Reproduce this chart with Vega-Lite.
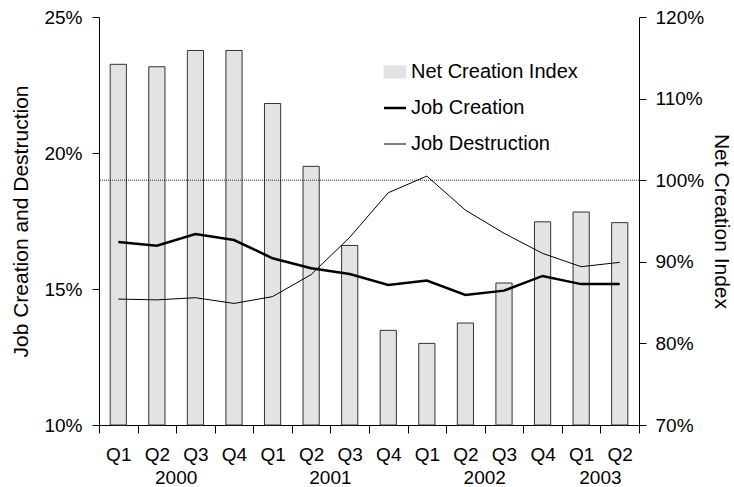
{
  "$schema": "https://vega.github.io/schema/vega-lite/v6.json",
  "width": 540,
  "height": 408,
  "autosize": "none",
  "padding": {"left": 99, "top": 17, "right": 95, "bottom": 62},
  "config": {
    "font": "Liberation Sans",
    "view": {"stroke": null},
    "axis": {
      "domainColor": "#000",
      "tickColor": "#000",
      "labelColor": "#000",
      "titleColor": "#000",
      "labelFontSize": 19,
      "titleFontSize": 21,
      "titleFontWeight": "normal",
      "grid": false
    },
    "legend": {
      "title": null,
      "orient": "none",
      "legendX": 286,
      "legendY": 45,
      "labelFontSize": 20,
      "labelColor": "#000",
      "labelLimit": 400,
      "labelOffset": 6,
      "rowPadding": 16,
      "symbolSize": 484
    }
  },
  "datasets": {
    "bars": [
      {"q": "2000 Q1", "index": 114.2},
      {"q": "2000 Q2", "index": 113.9},
      {"q": "2000 Q3", "index": 115.9},
      {"q": "2000 Q4", "index": 115.9},
      {"q": "2001 Q1", "index": 109.4},
      {"q": "2001 Q2", "index": 101.7},
      {"q": "2001 Q3", "index": 92.0},
      {"q": "2001 Q4", "index": 81.6},
      {"q": "2002 Q1", "index": 80.0},
      {"q": "2002 Q2", "index": 82.5},
      {"q": "2002 Q3", "index": 87.4},
      {"q": "2002 Q4", "index": 94.9},
      {"q": "2003 Q1", "index": 96.1},
      {"q": "2003 Q2", "index": 94.8}
    ],
    "lines": [
      {"q": "2000 Q1", "series": "Job Creation", "value": 16.73},
      {"q": "2000 Q2", "series": "Job Creation", "value": 16.59},
      {"q": "2000 Q3", "series": "Job Creation", "value": 17.02},
      {"q": "2000 Q4", "series": "Job Creation", "value": 16.8},
      {"q": "2001 Q1", "series": "Job Creation", "value": 16.13},
      {"q": "2001 Q2", "series": "Job Creation", "value": 15.76},
      {"q": "2001 Q3", "series": "Job Creation", "value": 15.55},
      {"q": "2001 Q4", "series": "Job Creation", "value": 15.15},
      {"q": "2002 Q1", "series": "Job Creation", "value": 15.31},
      {"q": "2002 Q2", "series": "Job Creation", "value": 14.78},
      {"q": "2002 Q3", "series": "Job Creation", "value": 14.94},
      {"q": "2002 Q4", "series": "Job Creation", "value": 15.48},
      {"q": "2003 Q1", "series": "Job Creation", "value": 15.18},
      {"q": "2003 Q2", "series": "Job Creation", "value": 15.18},
      {"q": "2000 Q1", "series": "Job Destruction", "value": 14.63},
      {"q": "2000 Q2", "series": "Job Destruction", "value": 14.6},
      {"q": "2000 Q3", "series": "Job Destruction", "value": 14.68},
      {"q": "2000 Q4", "series": "Job Destruction", "value": 14.47},
      {"q": "2001 Q1", "series": "Job Destruction", "value": 14.72},
      {"q": "2001 Q2", "series": "Job Destruction", "value": 15.53},
      {"q": "2001 Q3", "series": "Job Destruction", "value": 16.9},
      {"q": "2001 Q4", "series": "Job Destruction", "value": 18.54},
      {"q": "2002 Q1", "series": "Job Destruction", "value": 19.15},
      {"q": "2002 Q2", "series": "Job Destruction", "value": 17.9},
      {"q": "2002 Q3", "series": "Job Destruction", "value": 17.05},
      {"q": "2002 Q4", "series": "Job Destruction", "value": 16.31},
      {"q": "2003 Q1", "series": "Job Destruction", "value": 15.82},
      {"q": "2003 Q2", "series": "Job Destruction", "value": 15.98}
    ],
    "years": [
      {"q": "2000 Q2", "year": "2000"},
      {"q": "2001 Q2", "year": "2001"},
      {"q": "2002 Q2", "year": "2002"},
      {"q": "2003 Q1", "year": "2003"}
    ],
    "ref": [{"level": 100}]
  },
  "layer": [
    {
      "layer": [
        {
          "data": {"name": "bars"},
          "mark": {"type": "bar", "width": {"band": 0.42}, "stroke": "#333", "strokeWidth": 1},
          "encoding": {
            "x": {
              "field": "q",
              "type": "nominal",
              "scale": {
                "domain": ["2000 Q1","2000 Q2","2000 Q3","2000 Q4","2001 Q1","2001 Q2","2001 Q3","2001 Q4","2002 Q1","2002 Q2","2002 Q3","2002 Q4","2003 Q1","2003 Q2"],
                "paddingInner": 0,
                "paddingOuter": 0
              },
              "axis": {
                "title": null,
                "labelAngle": 0,
                "tickBand": "extent",
                "tickSize": 8,
                "labelPadding": 12,
                "labelExpr": "substring(datum.label, 5)"
              }
            },
            "y": {
              "field": "index",
              "type": "quantitative",
              "scale": {"domain": [70, 120], "zero": false, "nice": false},
              "axis": {
                "orient": "right",
                "title": "Net Creation Index",
                "values": [70, 80, 90, 100, 110, 120],
                "labelExpr": "datum.value + '%'",
                "tickSize": 7,
                "labelPadding": 9,
                "titlePadding": 7
              }
            },
            "y2": {"datum": 70},
            "color": {
              "datum": "Net Creation Index",
              "scale": {
                "domain": ["Net Creation Index", "Job Creation", "Job Destruction"],
                "range": ["#e3e3e3", "#000000", "#000000"]
              },
              "legend": {
                "encode": {
                  "symbols": {
                    "update": {
                      "shape": {"signal": "datum.value === 'Net Creation Index' ? 'M-1,-0.55L1,-0.55L1,0.55L-1,0.55Z' : 'stroke'"},
                      "fill": {"signal": "datum.value === 'Net Creation Index' ? '#e3e3e3' : 'transparent'"},
                      "stroke": {"signal": "datum.value === 'Net Creation Index' ? '#444444' : '#000000'"},
                      "strokeWidth": {"signal": "datum.value === 'Job Creation' ? 2.5 : 1"},
                      "opacity": {"value": 1},
                      "strokeOpacity": {"value": 1}
                    }
                  }
                }
              }
            }
          }
        },
        {
          "data": {"name": "ref"},
          "mark": {"type": "rule", "strokeDash": [1, 1], "strokeWidth": 0.8, "color": "#000"},
          "encoding": {
            "y": {"field": "level", "type": "quantitative"}
          }
        }
      ]
    },
    {
      "layer": [
        {
          "data": {"name": "lines"},
          "mark": {"type": "line"},
          "encoding": {
            "x": {"field": "q", "type": "nominal"},
            "y": {
              "field": "value",
              "type": "quantitative",
              "scale": {"domain": [10, 25], "zero": false, "nice": false},
              "axis": {
                "orient": "left",
                "title": "Job Creation and Destruction",
                "values": [10, 15, 20, 25],
                "labelExpr": "datum.value + '%'",
                "tickSize": 7,
                "labelPadding": 10,
                "titlePadding": 12
              }
            },
            "color": {
              "field": "series",
              "type": "nominal",
              "legend": {
                "encode": {
                  "symbols": {
                    "update": {
                      "shape": {"signal": "datum.value === 'Net Creation Index' ? 'M-1,-0.55L1,-0.55L1,0.55L-1,0.55Z' : 'stroke'"},
                      "fill": {"signal": "datum.value === 'Net Creation Index' ? '#e3e3e3' : 'transparent'"},
                      "stroke": {"signal": "datum.value === 'Net Creation Index' ? '#444444' : '#000000'"},
                      "strokeWidth": {"signal": "datum.value === 'Job Creation' ? 2.5 : 1"},
                      "opacity": {"value": 1},
                      "strokeOpacity": {"value": 1}
                    }
                  }
                }
              }
            },
            "strokeWidth": {
              "field": "series",
              "type": "nominal",
              "scale": {"domain": ["Job Creation", "Job Destruction"], "range": [2.5, 1]},
              "legend": null
            }
          }
        },
        {
          "data": {"name": "years"},
          "mark": {"type": "text", "fontSize": 19, "dy": 53, "baseline": "middle", "color": "#000"},
          "encoding": {
            "x": {"field": "q", "type": "nominal", "bandPosition": 1},
            "y": {"datum": 10},
            "text": {"field": "year"}
          }
        }
      ]
    }
  ],
  "resolve": {"scale": {"y": "independent"}}
}
